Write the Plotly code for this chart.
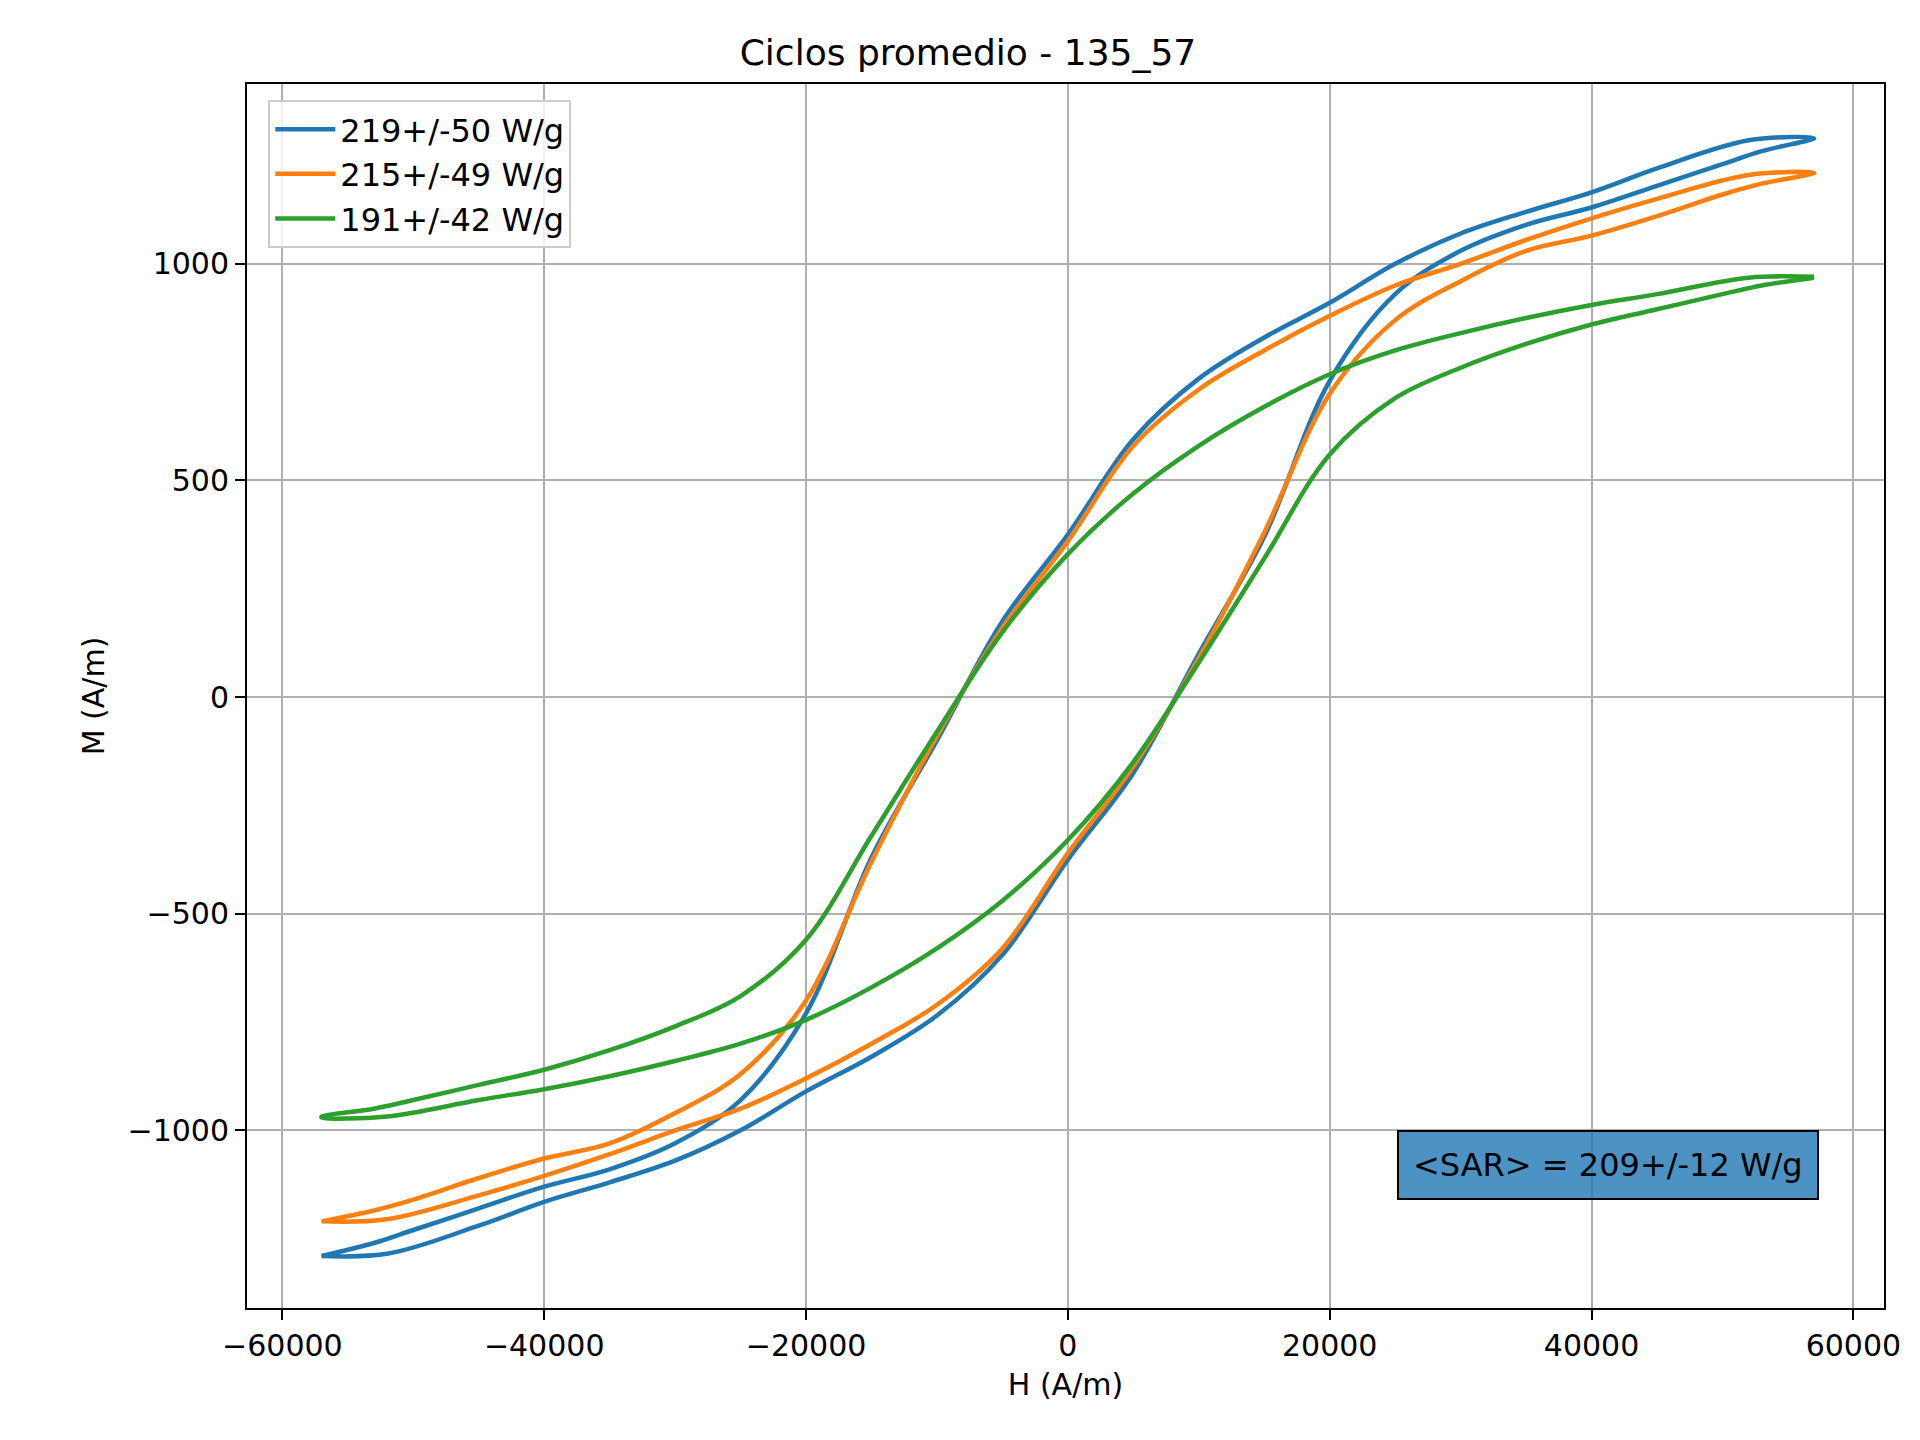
import plotly.graph_objects as go

# H values for the descending branch (from +Hmax to -Hmax)
H_down = [57000, 52000, 45000, 40000, 35000, 30000, 25000, 20000, 15000, 10000, 5000, 0,
          -5000, -10000, -15000, -20000, -25000, -30000, -35000, -40000, -45000, -50000, -53000, -57000]
# H values for the ascending branch
H_up = [-57000, -52000, -45000, -40000, -35000, -30000, -25000, -20000, -15000, -10000, -5000, 0,
        5000, 10000, 15000, 20000, 25000, 30000, 35000, 40000, 45000, 50000, 53000, 57000]

M1_down = [1290, 1285, 1220, 1165, 1120, 1070, 1000, 910, 830, 735, 595, 375,
           175, -100, -370, -730, -930, -1030, -1090, -1130, -1180, -1230, -1260, -1290]
M1_up = [-1290, -1285, -1220, -1165, -1120, -1070, -1000, -910, -830, -735, -595, -375,
         -175, 100, 370, 730, 930, 1030, 1090, 1130, 1180, 1230, 1260, 1290]

M2_down = [1210, 1205, 1150, 1105, 1055, 1000, 950, 880, 800, 710, 580, 360,
           160, -90, -380, -700, -870, -960, -1030, -1065, -1110, -1160, -1185, -1210]
M2_up = [-1210, -1205, -1150, -1105, -1055, -1000, -950, -880, -800, -710, -580, -360,
         -160, 90, 380, 700, 870, 960, 1030, 1065, 1110, 1160, 1185, 1210]

M3_down = [970, 968, 930, 905, 875, 840, 800, 745, 670, 580, 470, 330,
           150, -80, -320, -560, -690, -760, -815, -860, -895, -930, -950, -968]
M3_up = [-970, -968, -930, -905, -875, -840, -800, -745, -670, -580, -470, -330,
         -150, 80, 320, 560, 690, 760, 815, 860, 895, 930, 950, 968]

labels = ["219+/-50 W/g", "215+/-49 W/g", "191+/-42 W/g"]
colors = ["#1f77b4", "#ff7f0e", "#2ca02c"]
sar_text = "<SAR> = 209+/-12 W/g"

fig = go.Figure()
for lab, col, down, up in zip(labels, colors, [M1_down, M2_down, M3_down], [M1_up, M2_up, M3_up]):
    fig.add_trace(go.Scatter(x=H_down + H_up, y=down + up, mode="lines", name=lab,
                             line=dict(color=col, width=4.5, shape="spline", smoothing=1.0)))

axis = dict(showgrid=True, gridcolor="#b0b0b0", gridwidth=2, zeroline=False,
            showline=True, linecolor="black", linewidth=2, mirror=True,
            ticks="outside", ticklen=10, tickwidth=2, tickcolor="black",
            tickfont=dict(size=30, color="black"), minexponent=100)

fig.update_layout(
    width=1920, height=1440,
    paper_bgcolor="white", plot_bgcolor="white",
    font=dict(family="DejaVu Sans", color="black"),
    margin=dict(l=239, r=44, t=76, b=140),
    title=dict(text="Ciclos promedio - 135_57", x=0.5, xanchor="center", y=0.978,
               font=dict(size=36)),
    xaxis=dict(axis, range=[-62700, 62340], tickvals=[-60000, -40000, -20000, 0, 20000, 40000, 60000],
               ticktext=["\u221260000", "\u221240000", "\u221220000", "0", "20000", "40000", "60000"],
               title=dict(text="H (A/m)", font=dict(size=30), standoff=12)),
    yaxis=dict(axis, range=[-1410, 1415], tickvals=[-1000, -500, 0, 500, 1000],
               ticktext=["\u22121000", "\u2212500", "0", "500", "1000"],
               title=dict(text="M (A/m)", font=dict(size=30), standoff=14)),
    legend=dict(x=0.013, y=0.987, xanchor="left", yanchor="top", bgcolor="rgba(255,255,255,0.8)",
                bordercolor="#cccccc", borderwidth=2, font=dict(size=32), itemwidth=60),
    showlegend=True,
)

fig.add_annotation(text=sar_text, xref="paper", yref="paper", x=0.96, y=0.117,
                   xanchor="right", yanchor="middle", showarrow=False,
                   font=dict(size=32, color="black"), bgcolor="rgba(31,119,180,0.8)",
                   bordercolor="black", borderwidth=2, borderpad=14)

fig.write_html("out.html")
